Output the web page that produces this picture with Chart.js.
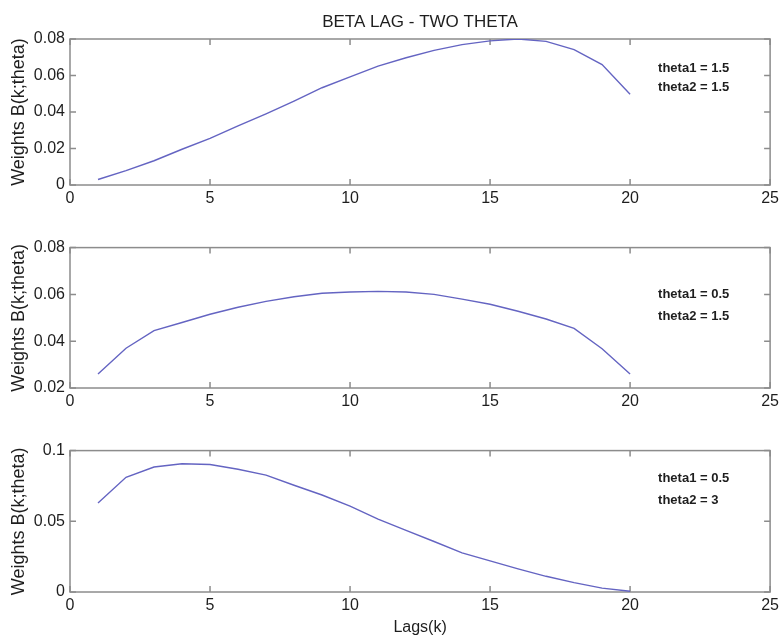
<!DOCTYPE html>
<html>
<head>
<meta charset="utf-8">
<title>Beta lag - two theta</title>
<script src="https://cdn.jsdelivr.net/npm/chart.js@4"></script>
<style>
  html, body { margin: 0; padding: 0; background: #fff; }
  body { width: 783px; height: 638px; position: relative; overflow: hidden; }
  .panel { position: absolute; left: 0; width: 783px; }
</style>
</head>
<body>
<div class="panel" style="top:0;height:217px"><canvas id="beta1"></canvas></div>
<div class="panel" style="top:233px;height:187px"><canvas id="beta2"></canvas></div>
<div class="panel" style="top:436px;height:202px"><canvas id="beta3"></canvas></div>
<script>
// lags k = 1..20
const lags = [1, 2, 3, 4, 5, 6, 7, 8, 9, 10, 11, 12, 13, 14, 15, 16, 17, 18, 19, 20];

// weights B(k;theta) for each theta pair
const weights15_15 = [0.0030, 0.0079, 0.0133, 0.0196, 0.0255, 0.0324, 0.0390, 0.0460, 0.0533, 0.0593,
                      0.0651, 0.0697, 0.0738, 0.0769, 0.0790, 0.0800, 0.0787, 0.0742, 0.0660, 0.0497];
const weights05_15 = [0.0260, 0.0370, 0.0445, 0.0480, 0.0515, 0.0545, 0.0570, 0.0590, 0.0605, 0.0610,
                      0.0613, 0.0610, 0.0600, 0.0580, 0.0558, 0.0528, 0.0495, 0.0455, 0.0368, 0.0260];
const weights05_3 = [0.0630, 0.0811, 0.0884, 0.0907, 0.0902, 0.0868, 0.0827, 0.0755, 0.0686, 0.0607,
                     0.0516, 0.0436, 0.0357, 0.0277, 0.0220, 0.0164, 0.0111, 0.0066, 0.0027, 0.0005];

// axis ticks
const xTicks = [0, 5, 10, 15, 20, 25];
const yTicks15_15 = [0, 0.02, 0.04, 0.06, 0.08];
const yTicks05_15 = [0.02, 0.04, 0.06, 0.08];
const yTicks05_3 = [0, 0.05, 0.1];

const FONT = "'Liberation Sans', Arial, sans-serif";
const LINE_COLOR = '#6464c2';
const BOX_COLOR = '#8c8c8c';
const TEXT_COLOR = '#1e1e1e';

// matlab-like box with inward ticks on all four sides, plus text notes
const axesFrame = {
  id: 'axesFrame',
  beforeDatasetsDraw(chart) {
    const {ctx, chartArea: a, scales: {x, y}} = chart;
    ctx.save();
    ctx.strokeStyle = BOX_COLOR;
    ctx.lineWidth = 1.5;
    ctx.strokeRect(a.left, a.top, a.right - a.left, a.bottom - a.top);
    ctx.beginPath();
    x.ticks.forEach(t => {
      const px = x.getPixelForValue(t.value);
      ctx.moveTo(px, a.bottom); ctx.lineTo(px, a.bottom - 6);
      ctx.moveTo(px, a.top); ctx.lineTo(px, a.top + 6);
    });
    y.ticks.forEach(t => {
      const py = y.getPixelForValue(t.value);
      ctx.moveTo(a.left, py); ctx.lineTo(a.left + 6, py);
      ctx.moveTo(a.right, py); ctx.lineTo(a.right - 6, py);
    });
    ctx.stroke();
    ctx.restore();
  },
  afterDraw(chart, args, opts) {
    const {ctx, chartArea: a, scales: {x, y}} = chart;
    ctx.save();
    ctx.fillStyle = TEXT_COLOR;
    ctx.textBaseline = 'middle';
    if (opts.heading) {
      ctx.font = '17px ' + FONT;
      ctx.textAlign = 'center';
      ctx.fillText(opts.heading, (a.left + a.right) / 2, 22);
    }
    ctx.font = 'bold 13px ' + FONT;
    ctx.textAlign = 'left';
    (opts.notes || []).forEach(n => {
      ctx.fillText(n.text, x.getPixelForValue(n.x), y.getPixelForValue(n.y));
    });
    ctx.restore();
  }
};

function makePanel(id, values, yMin, yMax, yTicks, opts) {
  const xTitle = opts.xTitle || '';
  return new Chart(document.getElementById(id), {
    type: 'line',
    data: {
      datasets: [{
        data: lags.map((k, i) => ({x: k, y: values[i]})),
        borderColor: LINE_COLOR,
        borderWidth: 1.4,
        pointRadius: 0,
        tension: 0,
        fill: false
      }]
    },
    options: {
      responsive: true,
      maintainAspectRatio: false,
      animation: false,
      layout: {padding: {top: opts.padTop, right: 10, left: 0, bottom: 0}},
      plugins: {
        legend: {display: false},
        tooltip: {enabled: false},
        axesFrame: {heading: opts.heading, notes: opts.notes}
      },
      scales: {
        x: {
          type: 'linear',
          min: 0,
          max: 25,
          afterBuildTicks: s => { s.ticks = xTicks.map(v => ({value: v})); },
          afterFit: s => { s.height = opts.xHeight; },
          grid: {display: false, drawTicks: false},
          border: {display: false},
          ticks: {color: TEXT_COLOR, font: {family: FONT, size: 16}, padding: 4, maxRotation: 0},
          title: {display: !!xTitle, text: xTitle, color: TEXT_COLOR,
                  font: {family: FONT, size: 16}, padding: {top: 0, bottom: 1}}
        },
        y: {
          min: yMin,
          max: yMax,
          afterBuildTicks: s => { s.ticks = yTicks.map(v => ({value: v})); },
          afterFit: s => { s.width = 70; },
          grid: {display: false, drawTicks: false},
          border: {display: false},
          ticks: {
            color: TEXT_COLOR, font: {family: FONT, size: 16}, padding: 5,
            callback: v => String(Number(v.toFixed(3)))
          },
          title: {display: true, text: 'Weights B(k;theta)', color: TEXT_COLOR,
                  font: {family: FONT, size: 18}, padding: {top: 8, bottom: 0}}
        }
      }
    },
    plugins: [axesFrame]
  });
}

makePanel('beta1', weights15_15, 0, 0.08, yTicks15_15, {
  padTop: 39, xHeight: 32, heading: 'BETA LAG - TWO THETA',
  notes: [{x: 21, y: 0.064, text: 'theta1 = 1.5'}, {x: 21, y: 0.0537, text: 'theta2 = 1.5'}]
});
makePanel('beta2', weights05_15, 0.02, 0.08, yTicks05_15, {
  padTop: 10, xHeight: 32,
  notes: [{x: 21, y: 0.0598, text: 'theta1 = 0.5'}, {x: 21, y: 0.0506, text: 'theta2 = 1.5'}]
});
makePanel('beta3', weights05_3, 0, 0.1, yTicks05_3, {
  padTop: 10, xHeight: 46, xTitle: 'Lags(k)',
  notes: [{x: 21, y: 0.080, text: 'theta1 = 0.5'}, {x: 21, y: 0.0648, text: 'theta2 = 3'}]
});
</script>
</body>
</html>
